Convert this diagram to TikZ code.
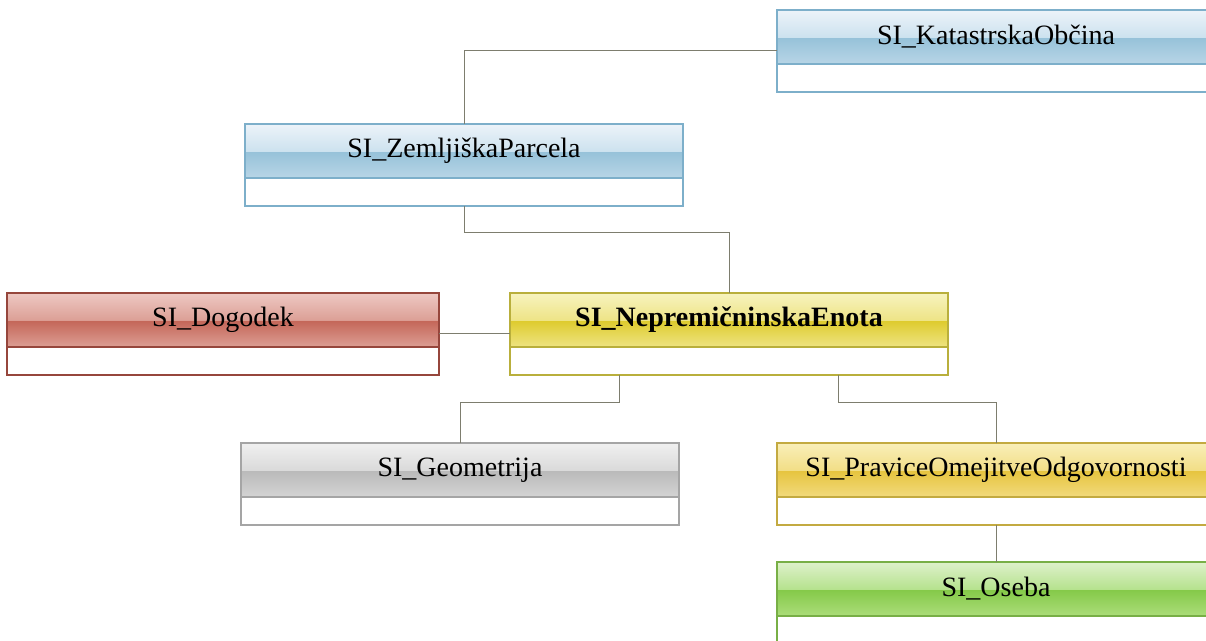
\documentclass[tikz,border=0pt]{standalone}
\usepackage{fontspec}
\setmainfont{Liberation Serif}
\usepackage{tikz}
\usetikzlibrary{positioning,calc}

% colours of the class headers
\definecolor{blueLine}{RGB}{125,175,202}
\definecolor{blueTop}{RGB}{236,243,249}
\definecolor{blueUp}{RGB}{205,226,239}
\definecolor{blueBand}{RGB}{150,194,217}
\definecolor{blueBot}{RGB}{184,213,230}
\definecolor{redLine}{RGB}{150,70,60}
\definecolor{redTop}{RGB}{238,200,195}
\definecolor{redUp}{RGB}{220,160,150}
\definecolor{redBand}{RGB}{196,102,88}
\definecolor{redBot}{RGB}{220,158,148}
\definecolor{yelLine}{RGB}{185,175,60}
\definecolor{yelTop}{RGB}{247,243,190}
\definecolor{yelUp}{RGB}{238,228,135}
\definecolor{yelBand}{RGB}{222,203,45}
\definecolor{yelBot}{RGB}{238,228,130}
\definecolor{greyLine}{RGB}{165,165,165}
\definecolor{greyTop}{RGB}{240,240,240}
\definecolor{greyUp}{RGB}{218,218,218}
\definecolor{greyBand}{RGB}{186,186,186}
\definecolor{greyBot}{RGB}{212,212,212}
\definecolor{goldLine}{RGB}{195,170,65}
\definecolor{goldTop}{RGB}{249,239,185}
\definecolor{goldUp}{RGB}{242,222,135}
\definecolor{goldBand}{RGB}{230,196,62}
\definecolor{goldBot}{RGB}{242,218,125}
\definecolor{greenLine}{RGB}{120,175,70}
\definecolor{greenTop}{RGB}{222,241,203}
\definecolor{greenUp}{RGB}{182,226,142}
\definecolor{greenBand}{RGB}{132,201,72}
\definecolor{greenBot}{RGB}{172,221,122}
\definecolor{linkCol}{RGB}{125,125,110}

\newcommand{\glassshade}[5]{\pgfdeclareverticalshading{#1}{100bp}{%
  color(0bp)=(#5); color(25bp)=(#5); color(49.5bp)=(#4);
  color(50bp)=(#3); color(75bp)=(#2); color(100bp)=(#2)}}
\glassshade{blueglass}{blueTop}{blueUp}{blueBand}{blueBot}
\glassshade{redglass}{redTop}{redUp}{redBand}{redBot}
\glassshade{yelglass}{yelTop}{yelUp}{yelBand}{yelBot}
\glassshade{greyglass}{greyTop}{greyUp}{greyBand}{greyBot}
\glassshade{goldglass}{goldTop}{goldUp}{goldBand}{goldBot}
\glassshade{greenglass}{greenTop}{greenUp}{greenBand}{greenBot}

\begin{document}
\begin{tikzpicture}[x=0.5pt,y=-0.5pt]
  \tikzstyle{head}=[draw,line width=1pt,outer sep=0pt,inner sep=0pt,anchor=north west,
    minimum width=219pt,minimum height=27pt,font=\fontsize{14}{16}\selectfont]
  \tikzstyle{body}=[draw,line width=1pt,outer sep=0pt,fill=white,
    minimum width=219pt,minimum height=14pt,below=0pt of #1]
  \tikzstyle{link}=[linkCol,line width=0.5pt]
  \clip (0,0) rectangle (1206,641);
  \fill[white] (0,0) rectangle (1206,641);

  \node[head,shading=blueglass,draw=blueLine] (kat) at (777,10) {SI\_KatastrskaObčina};
  \node[body=kat,draw=blueLine] (kat-b) {};
  \node[head,shading=blueglass,draw=blueLine] (zp) at (245,124) {SI\_ZemljiškaParcela};
  \node[body=zp,draw=blueLine] (zp-b) {};
  \node[head,shading=redglass,draw=redLine,minimum width=216pt] (dog) at (7,293) {SI\_Dogodek};
  \node[body=dog,draw=redLine,minimum width=216pt] (dog-b) {};
  \node[head,shading=yelglass,draw=yelLine,font=\fontsize{14}{16}\selectfont\bfseries] (ne) at (510,293) {SI\_NepremičninskaEnota};
  \node[body=ne,draw=yelLine] (ne-b) {};
  \node[head,shading=greyglass,draw=greyLine] (geo) at (241,443) {SI\_Geometrija};
  \node[body=geo,draw=greyLine] (geo-b) {};
  \node[head,shading=goldglass,draw=goldLine] (prav) at (777,443) {SI\_PraviceOmejitveOdgovornosti};
  \node[body=prav,draw=goldLine] (prav-b) {};
  \node[head,shading=greenglass,draw=greenLine] (os) at (777,562) {SI\_Oseba};
  \node[body=os,draw=greenLine] (os-b) {};

  % connectors
  \draw[link] ($(kat.north west)!.5!(kat-b.south west)$) -| (zp.north);
  \draw[link] (zp-b.south) -- ++(0,27) -| (ne.north);
  \draw[link] ($(dog.north east)!.5!(dog-b.south east)$) -- ($(ne.north west)!.5!(ne-b.south west)$);
  \draw[link] ($(ne-b.south west)!.25!(ne-b.south east)$) -- ++(0,28) -| (geo.north);
  \draw[link] ($(ne-b.south west)!.75!(ne-b.south east)$) -- ++(0,28) -| (prav.north);
  \draw[link] (prav-b.south) -- (os.north);
\end{tikzpicture}
\end{document}
